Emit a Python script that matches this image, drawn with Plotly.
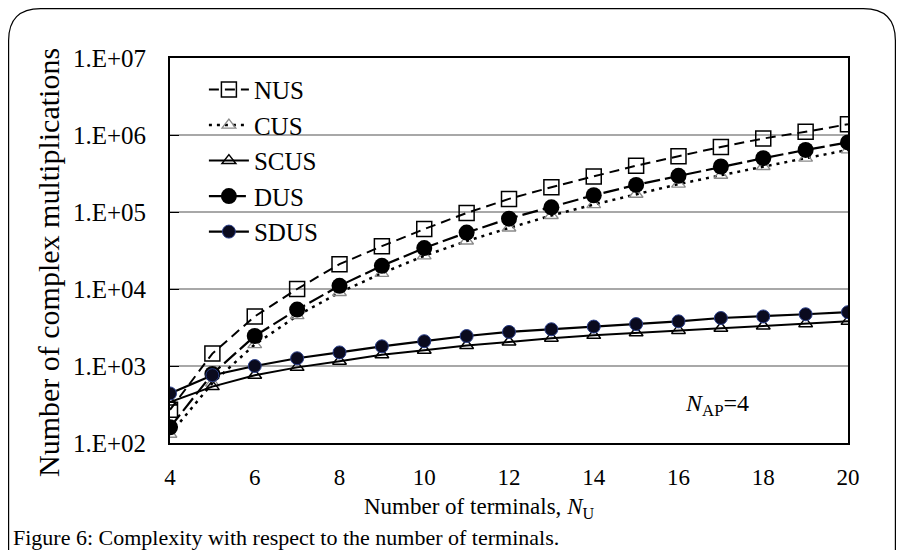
import plotly.graph_objects as go

x_terminals = [4, 5, 6, 7, 8, 9, 10, 11, 12, 13, 14, 15, 16, 17, 18, 19, 20]
nus = [270, 1450, 4400, 10000, 21000, 36000, 60000, 97000, 148000, 210000, 290000, 400000, 530000, 700000, 900000, 1100000, 1380000]
cus = [130, 600, 1900, 4500, 9000, 16000, 27000, 42000, 62000, 90000, 125000, 170000, 230000, 300000, 390000, 500000, 640000]
scus = [340, 540, 760, 960, 1150, 1400, 1600, 1850, 2050, 2300, 2500, 2700, 2900, 3100, 3300, 3550, 3800]
dus = [160, 790, 2450, 5400, 11000, 20000, 34000, 54000, 82000, 115000, 165000, 225000, 295000, 390000, 500000, 640000, 800000]
sdus = [440, 760, 1000, 1260, 1500, 1800, 2100, 2450, 2770, 3000, 3250, 3500, 3800, 4200, 4400, 4700, 5000]
ytick_vals = [1e2, 1e3, 1e4, 1e5, 1e6, 1e7]
ytick_text = ["1.E+02", "1.E+03", "1.E+04", "1.E+05", "1.E+06", "1.E+07"]
xtick_vals = [4, 6, 8, 10, 12, 14, 16, 18, 20]

# page body has an 8px margin; figure coordinates = screen - 8
W, H = 888, 542
L, R, T, B = 162, 840, 50, 435
SERIF = "Liberation Serif, Times New Roman, serif"

fig = go.Figure()
fig.add_trace(go.Scatter(x=x_terminals, y=nus, name="NUS", mode="lines+markers",
                         line=dict(color="black", width=2, dash="10px,6px"),
                         marker=dict(symbol="square-open", size=15, color="black", line=dict(width=1.5))))
fig.add_trace(go.Scatter(x=x_terminals, y=cus, name="CUS", mode="lines+markers",
                         line=dict(color="black", width=2.5, dash="3px,5px"),
                         marker=dict(symbol="triangle-up-open", size=12, color="#8a8a8a", line=dict(width=1.3))))
fig.add_trace(go.Scatter(x=x_terminals, y=scus, name="SCUS", mode="lines+markers",
                         line=dict(color="black", width=2),
                         marker=dict(symbol="triangle-up-open", size=12, color="black", line=dict(width=1.5))))
fig.add_trace(go.Scatter(x=x_terminals, y=dus, name="DUS", mode="lines+markers",
                         line=dict(color="black", width=2.2, dash="16px,5px"),
                         marker=dict(symbol="circle", size=16, color="black")))
fig.add_trace(go.Scatter(x=x_terminals, y=sdus, name="SDUS", mode="lines+markers",
                         line=dict(color="black", width=2.2),
                         marker=dict(symbol="circle", size=13, color="#0a0a1e", line=dict(color="#2b3f8a", width=1))))

def px(x):
    return (x - L) / (R - L)

def py(y):
    return (B - y) / (B - T)

# rounded outer frame
x0, x1, y0, y1, r = 0.6, 887.4, 0.6, 580, 32
path = (f"M {px(x0)},{py(y1)} L {px(x0)},{py(y0 + r)} "
        f"Q {px(x0)},{py(y0)} {px(x0 + r)},{py(y0)} "
        f"L {px(x1 - r)},{py(y0)} Q {px(x1)},{py(y0)} {px(x1)},{py(y0 + r)} "
        f"L {px(x1)},{py(y1)}")

fig.update_layout(
    width=W, height=H,
    margin=dict(l=L, r=W - R, t=T, b=H - B),
    plot_bgcolor="white", paper_bgcolor="white",
    font=dict(family=SERIF, color="black", size=22),
    showlegend=True,
    legend=dict(x=0.05, y=0.977, xanchor="left", yanchor="top",
                bgcolor="rgba(0,0,0,0)", font=dict(size=25, family=SERIF),
                itemwidth=40, tracegroupgap=0),
    xaxis=dict(range=[4, 20], tickvals=xtick_vals, showgrid=False, zeroline=False,
               showline=True, linecolor="black", linewidth=2, mirror=True,
               ticks="", tickfont=dict(size=23, family=SERIF), ticklabelstandoff=12),
    yaxis=dict(type="log", range=[2, 7], tickvals=ytick_vals, ticktext=ytick_text,
               showgrid=True, gridcolor="#a8a8a8", gridwidth=1.5, zeroline=False,
               showline=True, linecolor="black", linewidth=2, mirror=True,
               ticks="inside", ticklen=9, tickcolor="black",
               tickfont=dict(size=25, family=SERIF), ticklabelstandoff=17),
    annotations=[
        dict(x=px(40), y=py(255), xref="paper", yref="paper", showarrow=False,
             xanchor="center", yanchor="middle",
             textangle=-90, text="Number of complex multiplications",
             font=dict(size=30, family=SERIF)),
        dict(x=px(471), y=py(500), xref="paper", yref="paper", showarrow=False,
             xanchor="center", yanchor="middle",
             text="Number of terminals, <i>N</i><sub>U</sub>",
             font=dict(size=23, family=SERIF)),
        dict(x=px(709), y=py(397), xref="paper", yref="paper", showarrow=False,
             xanchor="center", yanchor="middle",
             text="<i>N</i><sub>AP</sub>=4", font=dict(size=24, family=SERIF)),
        dict(x=px(3), y=py(529), xref="paper", yref="paper", showarrow=False,
             xanchor="left", yanchor="middle",
             text="Figure 6: Complexity with respect to the number of terminals.",
             font=dict(size=22, family="Liberation Serif, serif")),
    ],
    shapes=[dict(type="path", xref="paper", yref="paper", path=path,
                 line=dict(color="black", width=1.2))],
)

fig.write_html("out.html")
